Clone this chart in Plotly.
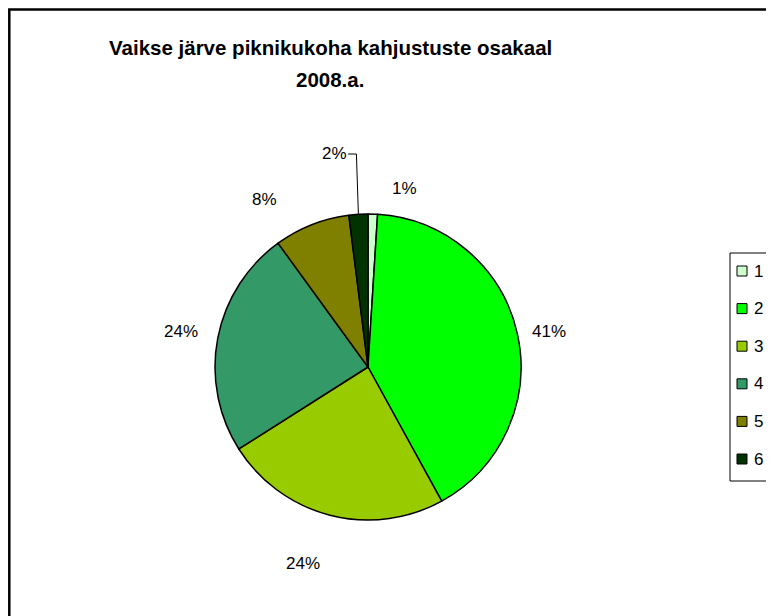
import math
import plotly.graph_objects as go

# the page body has an 8px margin, so the figure is drawn 8px in from the window corner
OFF = 8
VW, VH = 774, 616
W, H = VW - OFF, VH - OFF

categories = ["1", "2", "3", "4", "5", "6"]
shares = [1, 41, 24, 24, 8, 2]
colors = ["#CCFFCC", "#00FF00", "#99CC00", "#339966", "#808000", "#003300"]
title_lines = ["Vaikse järve piknikukoha kahjustuste osakaal", "2008.a."]

FONT = "Liberation Sans, Arial, sans-serif"

# pie geometry in window pixels
cx, cy, r = 368, 367, 153


def px(x, y):
    """window pixel -> paper coords"""
    return (x - OFF) / W, 1 - (y - OFF) / H


fig = go.Figure()

dx0, _ = px(cx - r, 0)
dx1, _ = px(cx + r, 0)
_, dy0 = px(0, cy + r)
_, dy1 = px(0, cy - r)

fig.add_trace(
    go.Pie(
        labels=categories,
        values=shares,
        sort=False,
        direction="clockwise",
        rotation=0,
        marker=dict(colors=colors, line=dict(color="black", width=1.5)),
        textinfo="none",
        hoverinfo="label+percent",
        showlegend=False,
        domain=dict(x=[dx0, dx1], y=[dy0, dy1]),
    )
)

annotations = []
shapes = []

# percent labels around the pie, placed from each slice's mid angle
total = sum(shares)
label_r = 190
nudge = {0: (31, 2), 1: (-4, 6), 5: (-22, -2), 4: (-34, 9), 2: (-18, 12)}
cum = 0
for i, v in enumerate(shares):
    mid = (cum + v / 2) / total * 2 * math.pi
    cum += v
    lx = cx + label_r * math.sin(mid)
    ly = cy - label_r * math.cos(mid)
    if i in nudge:
        lx += nudge[i][0]
        ly += nudge[i][1]
    if i == 0:
        ly = cy - r - 26
    if i == 5:
        ly = cy - r - 60
        # elbow leader line from label to slice edge
        ex = cx + r * math.sin(mid)
        ey = cy - r * math.cos(mid)
        x0, y0 = px(lx + 14, ly)
        x1, y1 = px(ex - 2, ly)
        x2, y2 = px(ex, ey)
        shapes.append(
            dict(
                type="path",
                xref="paper",
                yref="paper",
                path=f"M {x0} {y0} L {x1} {y1} L {x2} {y2}",
                line=dict(color="black", width=1),
            )
        )
    ax, ay = px(lx, ly)
    annotations.append(
        dict(
            x=ax, y=ay, xref="paper", yref="paper",
            text=f"{round(v / total * 100)}%",
            showarrow=False,
            font=dict(family=FONT, size=17, color="black"),
            xanchor="center", yanchor="middle",
        )
    )

# title, two lines
for j, line in enumerate(title_lines):
    tx, ty = px(330, 48 + 31 * j)
    annotations.append(
        dict(
            x=tx, y=ty, xref="paper", yref="paper",
            text=f"<b>{line}</b>",
            showarrow=False,
            font=dict(family=FONT, size=20.5, color="black"),
            xanchor="center", yanchor="middle",
        )
    )

# legend drawn by hand so its spacing matches
lg_left, lg_top, row0, row_gap = 730, 253, 271, 37.6
bx0, by0 = px(lg_left, lg_top)
bx1, by1 = px(VW + 20, row0 + row_gap * (len(categories) - 1) + 22)
shapes.append(
    dict(type="rect", xref="paper", yref="paper", x0=bx0, y0=by0, x1=bx1, y1=by1,
         line=dict(color="black", width=1), fillcolor="white", layer="below")
)
for i, (cat, col) in enumerate(zip(categories, colors)):
    ry = row0 + row_gap * i
    sx0, sy0 = px(737, ry - 5)
    sx1, sy1 = px(747, ry + 5)
    shapes.append(
        dict(type="rect", xref="paper", yref="paper", x0=sx0, y0=sy0, x1=sx1, y1=sy1,
             line=dict(color="black", width=1), fillcolor=col)
    )
    tx, ty = px(752, ry)
    annotations.append(
        dict(x=tx, y=ty, xref="paper", yref="paper", text=cat, showarrow=False,
             font=dict(family=FONT, size=17, color="black"),
             xanchor="left", yanchor="middle")
    )

# outer chart border (runs off the right/bottom edge)
fx0, fy0 = px(9.3, 9.5)
fx1, fy1 = px(VW + 30, VH + 30)
shapes.append(
    dict(type="rect", xref="paper", yref="paper", x0=fx0, y0=fy0, x1=fx1, y1=fy1,
         line=dict(color="black", width=2.5), layer="below")
)

fig.update_layout(
    width=W,
    height=H,
    margin=dict(l=0, r=0, t=0, b=0),
    paper_bgcolor="white",
    plot_bgcolor="white",
    annotations=annotations,
    shapes=shapes,
    font=dict(family=FONT),
)

fig.write_html("out.html")
